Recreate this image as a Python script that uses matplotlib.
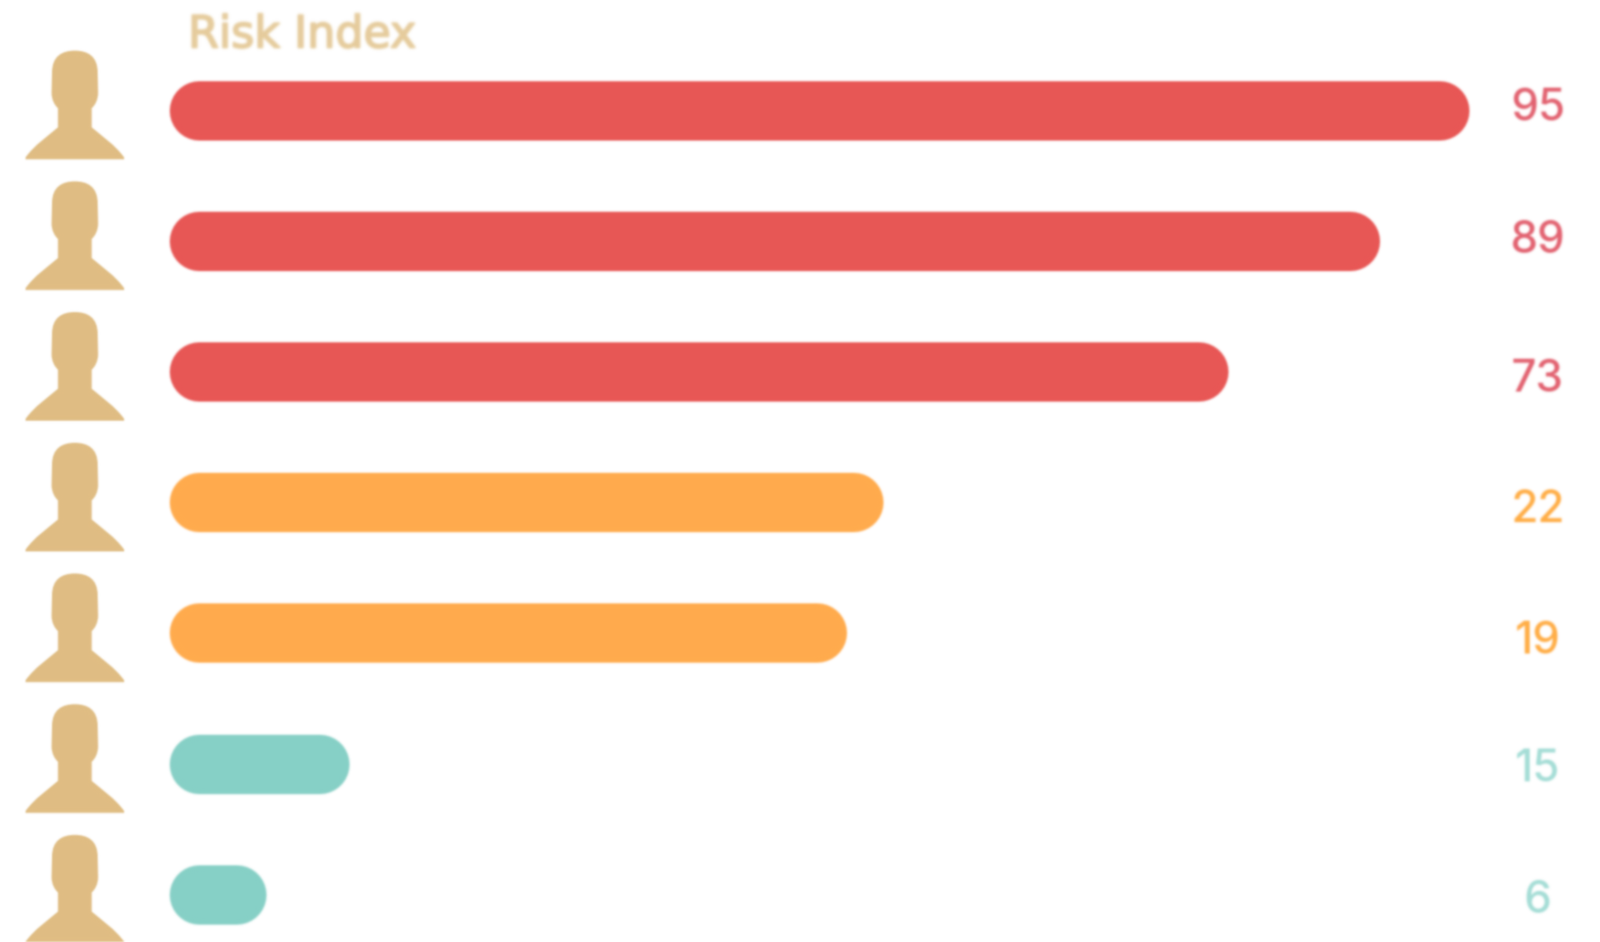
import numpy as np
import matplotlib
matplotlib.use("Agg")
import matplotlib.pyplot as plt
import matplotlib.patheffects as pe
from matplotlib.patches import PathPatch
from matplotlib.path import Path
from matplotlib.transforms import Affine2D

title = "Risk Index"
risk_labels = ["95", "89", "73", "22", "19", "15", "6"]
# bar length as a share of the longest bar
bar_share = [100.0, 93.1, 81.4, 54.9, 52.1, 13.8, 7.4]
levels = ["high", "high", "high", "mid", "mid", "low", "low"]
label_shift = [-2, 0, 9, 9, 10, 7, 7]

bar_colors = {"high": "#E85654", "mid": "#FFAB4C", "low": "#86D0C6"}
text_colors = {"high": "#E2616F", "mid": "#FFAD45", "low": "#A4DDD6"}
icon_color = "#E0BD83"
title_color = "#E6CC9C"

W, H = 1753, 1032
X0, TRACK = 186, 1424
ROW0, STEP = 120.5, 143.2
BAR_H = 65


def blur(radius):
    k = np.exp(-0.5 * (np.arange(-6, 7) / radius) ** 2)
    k /= k.sum()

    def f(im, dpi):
        pad = 8
        a = np.pad(im, ((pad, pad), (pad, pad), (0, 0)))
        rgb = a[..., :3] * a[..., 3:4]
        alpha = a[..., 3]
        chans = [rgb[..., 0], rgb[..., 1], rgb[..., 2], alpha]
        out = []
        for c in chans:
            c = np.apply_along_axis(lambda v: np.convolve(v, k, mode="same"), 0, c)
            c = np.apply_along_axis(lambda v: np.convolve(v, k, mode="same"), 1, c)
            out.append(c)
        al = out[3]
        safe = np.where(al > 1e-4, al, 1)
        res = np.dstack([out[0] / safe, out[1] / safe, out[2] / safe, al])
        return np.clip(res, 0, 1), -pad, -pad

    return f


fig = plt.figure(figsize=(W / 100, H / 100), dpi=100, facecolor="white")
ax = fig.add_axes([0, 0, 1, 1])
ax.set_xlim(0, W)
ax.set_ylim(H, 0)
ax.axis("off")

# person glyph in its own unit box, centred on x=0, y=0 at the head top
icon_verts = [
    (-25, 24),
    (-25, 6), (-14, 0), (0, 0),
    (14, 0), (25, 6), (25, 24),
    (25.5, 46),
    (25.5, 54), (22, 60), (18.5, 63),
    (18.5, 84),
    (30, 94), (44, 103), (54, 117),
    (54, 119), (-54, 119), (-54, 117),
    (-44, 103), (-30, 94), (-18.5, 84),
    (-18.5, 63),
    (-22, 60), (-25.5, 54), (-25.5, 46),
    (-25, 24),
]
C4, LT = Path.CURVE4, Path.LINETO
icon_codes = [
    Path.MOVETO, C4, C4, C4, C4, C4, C4, LT, C4, C4, C4, LT, C4, C4, C4,
    LT, LT, LT, C4, C4, C4, LT, C4, C4, C4, Path.CLOSEPOLY,
]
icon = Path(icon_verts, icon_codes)

for i, (share, label, level, shift) in enumerate(zip(bar_share, risk_labels, levels, label_shift)):
    yc = ROW0 + STEP * i
    r = BAR_H / 2
    line, = ax.plot(
        [X0 + r, X0 + TRACK * share / 100 - r], [yc, yc],
        color=bar_colors[level], lw=BAR_H * 0.72, solid_capstyle="round",
    )
    line.set_agg_filter(blur(1.2))

    person = PathPatch(
        icon, fc=icon_color, ec="none",
        transform=Affine2D().translate(82, yc - 65) + ax.transData,
    )
    ax.add_patch(person)
    person.set_agg_filter(blur(1.0))

    t = ax.text(1685, yc + shift, label, ha="center", va="center",
                fontsize=34.5, family="Inter", weight="medium",
                color=text_colors[level])
    t.set_agg_filter(blur(1.3))

t = ax.text(206, 38, title, ha="left", va="center", fontsize=35,
            family="DejaVu Sans", color=title_color, weight="normal",
            path_effects=[pe.withStroke(linewidth=1.4, foreground=title_color)])
t.set_agg_filter(blur(1.5))

fig.savefig("out.png", dpi=100, facecolor="white")
